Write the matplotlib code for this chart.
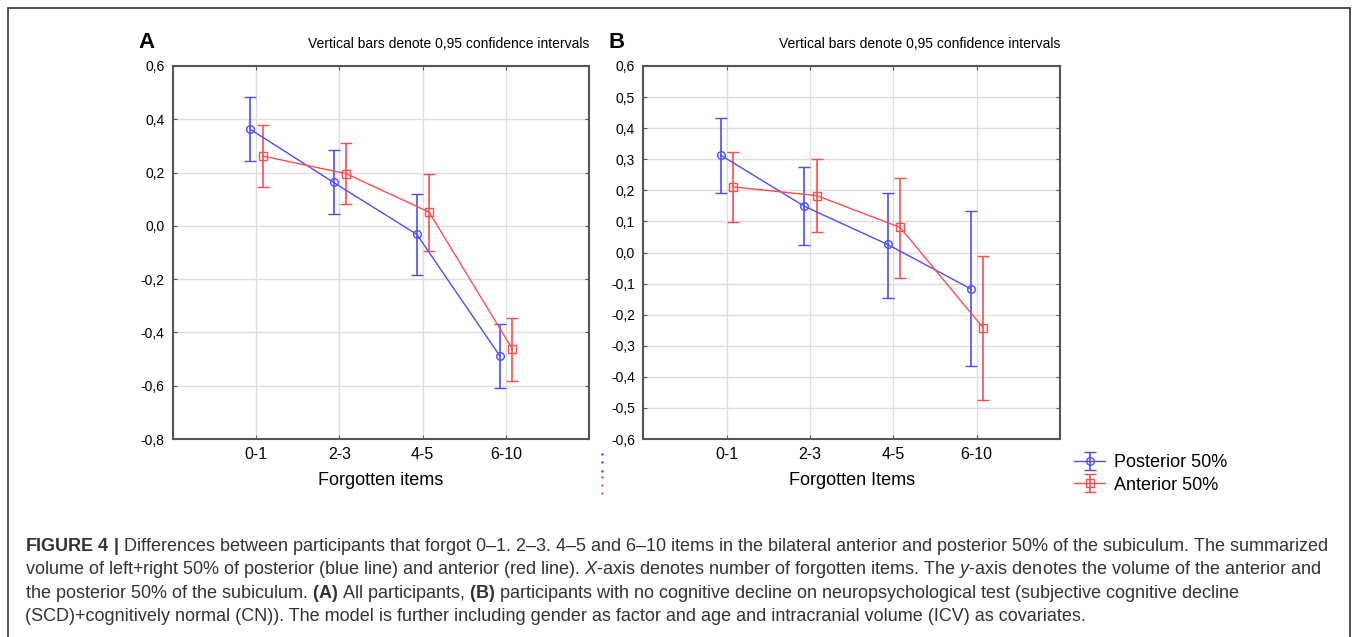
import numpy as np
import matplotlib.pyplot as plt
from matplotlib.patches import Rectangle
from matplotlib.lines import Line2D

plt.rcParams['font.family'] = ['Liberation Sans', 'DejaVu Sans']
plt.rcParams['mathtext.fontset'] = 'custom'
plt.rcParams['mathtext.rm'] = 'Liberation Sans'
plt.rcParams['mathtext.it'] = 'Liberation Sans:italic'
plt.rcParams['mathtext.bf'] = 'Liberation Sans:bold'

categories = ['0-1', '2-3', '4-5', '6-10']

# panel A - all participants
a_post = [0.362, 0.163, -0.032, -0.489]
a_post_lo = [0.243, 0.046, -0.183, -0.607]
a_post_hi = [0.485, 0.285, 0.118, -0.367]
a_ant = [0.262, 0.196, 0.051, -0.463]
a_ant_lo = [0.146, 0.081, -0.096, -0.581]
a_ant_hi = [0.379, 0.311, 0.196, -0.347]

# panel B - SCD + CN
b_post = [0.313, 0.149, 0.026, -0.117]
b_post_lo = [0.191, 0.025, -0.146, -0.364]
b_post_hi = [0.434, 0.275, 0.192, 0.133]
b_ant = [0.211, 0.183, 0.081, -0.243]
b_ant_lo = [0.098, 0.065, -0.081, -0.475]
b_ant_hi = [0.323, 0.301, 0.241, -0.011]

blue = '#4d4dff'
red = '#ff4d4d'

fig = plt.figure(figsize=(13.54, 6.37), dpi=100)
axA = fig.add_axes([0.1278, 0.3108, 0.3072, 0.5856])
axB = fig.add_axes([0.4751, 0.3108, 0.3078, 0.5856])

x = np.arange(len(categories))


def fmt(t):
    t = round(t, 1) + 0.0
    return ('%.1f' % t).replace('.', ',')


def draw(ax, post, plo, phi, ant, alo, ahi, yticks, xlabel):
    post, plo, phi = np.array(post), np.array(plo), np.array(phi)
    ant, alo, ahi = np.array(ant), np.array(alo), np.array(ahi)
    hp = ax.errorbar(x - 0.07, post, yerr=[post - plo, phi - post], color=blue, lw=1,
                     marker='o', ms=5.5, mfc='none', mec=blue, capsize=4, elinewidth=1.2,
                     label='Posterior 50%', zorder=3)
    ha = ax.errorbar(x + 0.08, ant, yerr=[ant - alo, ahi - ant], color=red, lw=1,
                     marker='s', ms=5.5, mfc='none', mec=red, capsize=4, elinewidth=1.2,
                     label='Anterior 50%', zorder=3)
    ax.set_xlim(-1, 4)
    ax.set_ylim(yticks[0], yticks[-1])
    ax.set_xticks(x)
    ax.set_xticklabels(categories, fontsize=11.5)
    ax.set_yticks(yticks)
    ax.set_yticklabels([fmt(t) for t in yticks], fontsize=10)
    ax.grid(True, color='#dddddd', lw=1)
    ax.set_axisbelow(True)
    ax.tick_params(direction='in', length=3, color='#555555', right=True, top=True, pad=6)
    for s in ax.spines.values():
        s.set_color('#555555')
        s.set_linewidth(1.5)
    ax.set_xlabel(xlabel, fontsize=13, labelpad=7)
    ax.set_title('Vertical bars denote 0,95 confidence intervals', fontsize=10, loc='right', pad=13)
    return hp, ha


draw(axA, a_post, a_post_lo, a_post_hi, a_ant, a_ant_lo, a_ant_hi,
     np.arange(-0.8, 0.61, 0.2), 'Forgotten items')
hp, ha = draw(axB, b_post, b_post_lo, b_post_hi, b_ant, b_ant_lo, b_ant_hi,
              np.arange(-0.6, 0.61, 0.1), 'Forgotten Items')

fig.text(138 / 1354, 1 - 42 / 637, 'A', fontsize=16, fontweight='bold', va='center')
fig.text(609 / 1354, 1 - 42 / 637, 'B', fontsize=16, fontweight='bold', va='center')

fig.legend([hp, ha], ['Posterior 50%', 'Anterior 50%'], loc='center left',
           bbox_to_anchor=(1058 / 1354, 1 - 474 / 637), frameon=False, fontsize=13,
           handlelength=1.7, handletextpad=0.5, labelspacing=0.3)

# leftover legend ticks of panel A
fig.lines.append(Line2D([602 / 1354] * 3, [1 - v / 637 for v in (454, 462, 471)],
                        transform=fig.transFigure, ls='none', marker='.', ms=1.5, color=blue))
fig.lines.append(Line2D([602 / 1354] * 3, [1 - v / 637 for v in (477, 485, 493)],
                        transform=fig.transFigure, ls='none', marker='.', ms=1.5, color=red))

# outer frame
fig.patches.append(Rectangle((8 / 1354, -0.01), 1342 / 1354, 1 - 8 / 637 + 0.01,
                             transform=fig.transFigure, fill=False, ec='#333333', lw=1.2))

caption = [
    r'$\mathbf{FIGURE\ 4\ |}$ Differences between participants that forgot 0–1. 2–3. 4–5 and 6–10 items in the bilateral anterior and posterior 50% of the subiculum. The summarized',
    r'volume of left+right 50% of posterior (blue line) and anterior (red line). $\mathit{X}$-axis denotes number of forgotten items. The $\mathit{y}$-axis denotes the volume of the anterior and',
    r'the posterior 50% of the subiculum. $\mathbf{(A)}$ All participants, $\mathbf{(B)}$ participants with no cognitive decline on neuropsychological test (subjective cognitive decline',
    r'(SCD)+cognitively normal (CN)). The model is further including gender as factor and age and intracranial volume (ICV) as covariates.',
]
for i, line in enumerate(caption):
    fig.text(25 / 1354, 1 - (551 + i * 23.3) / 637, line, fontsize=13.0, color='#333333',
             va='baseline', ha='left')

fig.savefig('out.png', dpi=100)
